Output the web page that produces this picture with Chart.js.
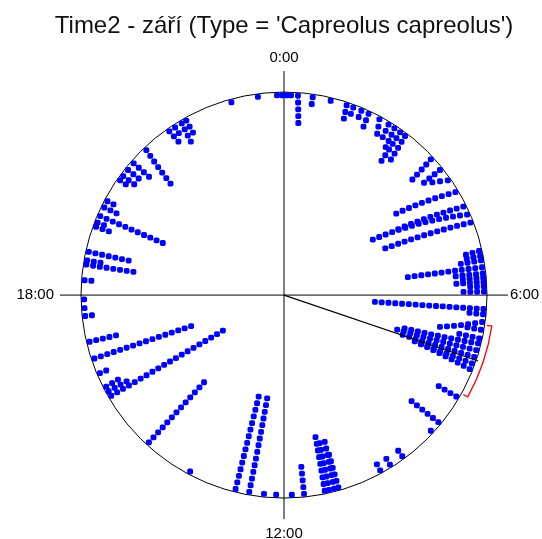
<!DOCTYPE html>
<html>
<head>
<meta charset="utf-8">
<script src="https://cdn.jsdelivr.net/npm/chart.js@4.4.1/dist/chart.umd.min.js"></script>
<style>
  html, body { margin: 0; background: #fff; }
  #wrap { width: 542px; height: 539px; }
</style>
</head>
<body>
<div id="wrap"><canvas id="chart"></canvas></div>
<script>
// clock labels at 0, 6, 12 and 18 h
const clockLabels = ["0:00", "6:00", "12:00", "18:00"];

// each group of records: time of the record on the rim, time of the innermost
// record of the same stack, and number of records in the stack
const rimTime = [
  "22:59","23:30","23:52","23:58","0:03","0:08","0:16","0:33","0:54",
  "1:13","1:21","1:31","1:40","1:54","2:06","2:14","2:22","2:29",
  "3:09","3:25","3:40","3:56","4:15","4:25","4:35",
  "5:09","5:15","5:20","5:28","5:35","5:40","5:45","5:50","5:56",
  "6:16","6:22","6:31","6:40","6:50","6:56","7:04","7:12","7:20","7:27",
  "8:02","8:38","8:51","9:35","9:52","10:05",
  "10:57","11:02","11:08","11:13","11:37","11:51","12:09","12:23",
  "12:40","12:56","13:52","14:50",
  "15:59","16:05","16:11","16:28","16:46","17:06","17:36","17:45","17:55",
  "18:17","18:35","18:40","18:50","19:20","19:25","19:33","19:44","19:52",
  "20:20","20:26","20:35","20:45","21:06","21:40","21:48","21:57","22:03"
];
const innerTime = [
  "22:59","23:30","23:52","23:58","0:03","0:08","0:19","0:33","0:54",
  "1:15","1:21","1:31","1:41","2:00","2:08","2:18","2:24","2:33",
  "3:12","3:25","3:31","3:36","4:00","3:52","4:21",
  "5:10","5:15","5:20","5:27","5:35","5:40","5:45","5:50","5:56",
  "6:17","6:22","6:46","6:40","6:50","7:02","7:08","7:14","7:18","7:19",
  "8:02","8:39","8:51","9:35","9:52","10:05",
  "10:57","10:58","11:06","11:10","11:37","11:51","12:09","12:23",
  "12:37","12:56","13:52","14:50",
  "15:59","16:05","16:12","16:28","16:46","17:06","17:36","17:45","17:55",
  "18:17","18:35","18:40","18:50","19:20","19:25","19:33","19:44","19:52",
  "20:20","20:26","20:35","20:45","20:58","21:42","21:48","21:55","22:03"
];
const recordCount = [
  1,1,1,1,1,1,5,2,1,
  3,2,2,3,3,3,4,6,5,
  5,4,3,10,11,15,14,
  3,3,4,12,5,4,5,3,4,
  17,3,7,3,4,12,13,12,10,9,
  4,6,1,2,2,2,
  6,8,8,9,5,1,1,1,
  15,15,1,13,
  20,4,3,2,16,5,2,1,1,
  2,8,3,7,3,2,11,3,2,
  2,3,3,4,7,3,2,4,3
];

// mean direction and its 95% confidence interval
const meanTime = "7:15";
const ciTime = ["6:34", "7:56"];

function toHours(s) {
  const p = s.split(":").map(Number);
  return p[0] + p[1] / 60;
}
function clockAngle(h) { return h / 24 * 2 * Math.PI; }

// stacked dots, rim inwards
const FIRST = 0.985, STEP = 0.0335;
const dots = [];
rimTime.forEach((t, i) => {
  const a = toHours(t), b = toHours(innerTime[i]);
  const n = recordCount[i];
  for (let k = 0; k < n; k++) {
    const h = n > 1 ? a + (b - a) * k / (n - 1) : a;
    const ang = clockAngle(h);
    const r = FIRST - k * STEP;
    dots.push({ x: r * Math.sin(ang), y: r * Math.cos(ang) });
  }
});

const FONT = "'Liberation Sans', Arial, sans-serif";

const dial = {
  id: "dial",
  beforeDatasetsDraw(chart) {
    const { ctx, scales: { x, y } } = chart;
    const cx = x.getPixelForValue(0), cy = y.getPixelForValue(0);
    const R = x.getPixelForValue(1) - cx;
    const ext = R + 21;
    ctx.save();
    ctx.strokeStyle = "#000";
    ctx.lineWidth = 1;
    ctx.beginPath();
    ctx.arc(cx, cy, R, 0, Math.PI * 2);
    ctx.stroke();
    // axes run a little past the rim
    ctx.beginPath();
    ctx.moveTo(cx - ext, cy); ctx.lineTo(cx + ext, cy);
    ctx.moveTo(cx, cy - ext); ctx.lineTo(cx, cy + ext);
    ctx.stroke();

    // clock labels
    ctx.fillStyle = "#000";
    ctx.font = "15px " + FONT;
    ctx.textAlign = "center";
    ctx.textBaseline = "bottom";
    ctx.fillText(clockLabels[0], cx, cy - R - 27);
    ctx.textAlign = "left";
    ctx.textBaseline = "middle";
    ctx.fillText(clockLabels[1], cx + R + 23, cy);
    ctx.textAlign = "center";
    ctx.textBaseline = "top";
    ctx.fillText(clockLabels[2], cx, cy + R + 28);
    ctx.textAlign = "right";
    ctx.textBaseline = "middle";
    ctx.fillText(clockLabels[3], cx - R - 27, cy);
    ctx.restore();
  },
  afterDatasetsDraw(chart) {
    const { ctx, scales: { x, y } } = chart;
    const cx = x.getPixelForValue(0), cy = y.getPixelForValue(0);
    const R = x.getPixelForValue(1) - cx;
    ctx.save();
    // mean vector
    const m = clockAngle(toHours(meanTime));
    ctx.strokeStyle = "#000";
    ctx.lineWidth = 1.2;
    ctx.beginPath();
    ctx.moveTo(cx, cy);
    ctx.lineTo(cx + R * 1.01 * Math.sin(m), cy - R * 1.01 * Math.cos(m));
    ctx.stroke();

    // confidence interval arc
    const a1 = clockAngle(toHours(ciTime[0])), a2 = clockAngle(toHours(ciTime[1]));
    const rc = R * 1.035, rt = R * 1.01;
    ctx.strokeStyle = "#ff0000";
    ctx.lineWidth = 1.3;
    ctx.beginPath();
    ctx.moveTo(cx + rt * Math.sin(a1), cy - rt * Math.cos(a1));
    ctx.lineTo(cx + rc * Math.sin(a1), cy - rc * Math.cos(a1));
    ctx.arc(cx, cy, rc, a1 - Math.PI / 2, a2 - Math.PI / 2);
    ctx.lineTo(cx + rt * Math.sin(a2), cy - rt * Math.cos(a2));
    ctx.stroke();
    ctx.restore();
  }
};

new Chart(document.getElementById("chart"), {
  type: "scatter",
  data: {
    datasets: [{
      label: "Capreolus capreolus",
      data: dots,
      backgroundColor: "#0000ff",
      borderWidth: 0,
      pointRadius: 3.4,
      pointStyle: "rectRounded",
      clip: false
    }]
  },
  options: {
    responsive: true,
    maintainAspectRatio: false,
    animation: false,
    layout: { padding: { left: 40.4, right: 14.4, top: 12.2, bottom: 4.5 } },
    plugins: {
      legend: { display: false },
      tooltip: { enabled: false },
      title: {
        display: true,
        text: "Time2 - září (Type = 'Capreolus capreolus')",
        color: "#111",
        font: { family: FONT, size: 24, weight: "normal" },
        padding: { top: 0, bottom: 10.6 }
      }
    },
    scales: {
      x: { type: "linear", min: -1.2, max: 1.2, display: false },
      y: { type: "linear", min: -1.18, max: 1.2, display: false }
    }
  },
  plugins: [dial]
});
</script>
</body>
</html>
